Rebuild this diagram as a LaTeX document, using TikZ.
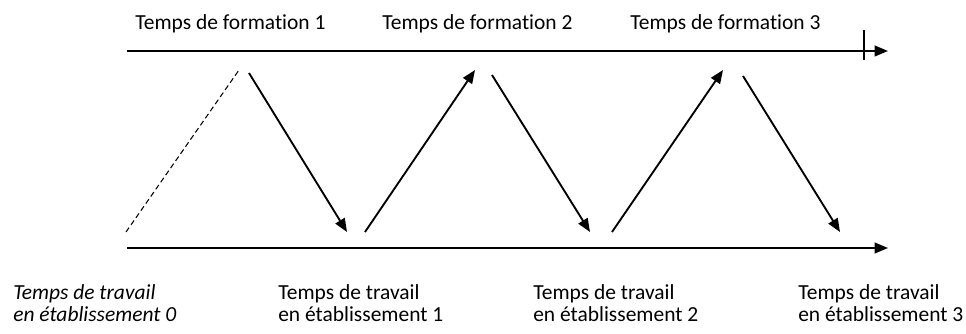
\documentclass[tikz,border=0pt]{standalone}
\usepackage{fontspec}
\setmainfont[Ligatures=NoCommon]{Carlito}
\usetikzlibrary{arrows.meta}

\begin{document}
\begin{tikzpicture}[x=0.75pt,y=-0.75pt,
  fleche/.style={line width=1.4pt,-{Triangle[length=10pt,width=8pt]}},
  etiquette/.style={inner sep=0pt,anchor=base west,align=left,font=\fontsize{16.1}{15.8}\selectfont}]
\useasboundingbox (0,0) rectangle (966,334);
% les deux axes
\coordinate (formA) at (127,51);
\coordinate (formB) at (888,51);
\coordinate (travA) at (127,248);
\coordinate (travB) at (888,248);
\draw[fleche] (formA) -- (formB);
\draw[fleche] (travA) -- (travB);
\coordinate (repH) at (864,30);
\coordinate (repB) at (864,60);
\draw[line width=0.8pt] (repH) -- (repB);
% allers-retours
\coordinate (b0) at (126,232);
\coordinate (h0) at (239,70);
\draw[line width=0.8pt,dash pattern=on 4pt off 2.5pt] (b0) -- (h0);
\coordinate (h1) at (249,73);
\coordinate (b1) at (347,232);
\draw[fleche] (h1) -- (b1);
\coordinate (b2) at (365,232);
\coordinate (h2) at (475,70);
\draw[fleche] (b2) -- (h2);
\coordinate (h3) at (492,75);
\coordinate (b3) at (590,232);
\draw[fleche] (h3) -- (b3);
\coordinate (b4) at (612,232);
\coordinate (h4) at (723,70);
\draw[fleche] (b4) -- (h4);
\coordinate (h5) at (743,76);
\coordinate (b5) at (840,232);
\draw[fleche] (h5) -- (b5);
% textes
\node[etiquette] (form1) at (135,30) {Temps de formation 1};
\node[etiquette] (form2) at (382,30) {Temps de formation 2};
\node[etiquette] (form3) at (630,30) {Temps de formation 3};
\node[etiquette] (trav0) at (13,321) {\itshape Temps de travail\\\itshape en établissement 0};
\node[etiquette] (trav1) at (278,321) {Temps de travail\\en établissement 1};
\node[etiquette] (trav2) at (533,321) {Temps de travail\\en établissement 2};
\node[etiquette] (trav3) at (798,321) {Temps de travail\\en établissement 3};
\end{tikzpicture}
\end{document}
